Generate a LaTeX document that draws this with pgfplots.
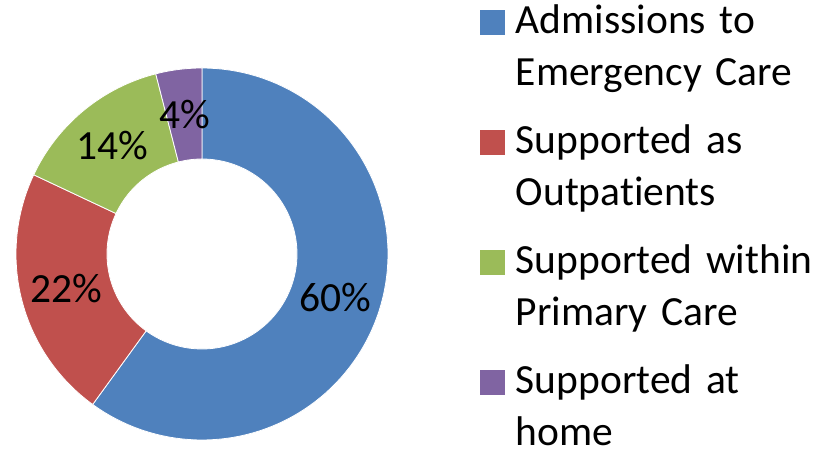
\documentclass[border=0pt]{standalone}
\usepackage{fontspec}
\setmainfont{Carlito}[Ligatures={NoCommon}, WordSpace=0.85]
\usepackage{pgfplots}
\usepackage{pgfplotstable}
\pgfplotsset{compat=1.18}
\definecolor{cA}{HTML}{4F81BD}
\definecolor{cB}{HTML}{C0504D}
\definecolor{cC}{HTML}{9BBB59}
\definecolor{cD}{HTML}{8064A2}
\pgfplotstableread{
label value
Admissions 60
Outpatients 22
Primary 14
Home 4
}\datatable
\pgfplotstablegetelem{0}{value}\of\datatable \let\vA\pgfplotsretval
\pgfplotstablegetelem{1}{value}\of\datatable \let\vB\pgfplotsretval
\pgfplotstablegetelem{2}{value}\of\datatable \let\vC\pgfplotsretval
\pgfplotstablegetelem{3}{value}\of\datatable \let\vD\pgfplotsretval
\pgfmathsetmacro\aO{90}
\pgfmathsetmacro\aA{\aO-3.6*\vA}
\pgfmathsetmacro\aB{\aA-3.6*\vB}
\pgfmathsetmacro\aC{\aB-3.6*\vC}
\pgfmathsetmacro\aD{\aC-3.6*\vD}
\def\cx{202}\def\cy{203}\def\Ro{186}\def\Ri{95}
% slice: start angle, end angle, colour
\newcommand\slice[3]{%
  \addplot[fill=#3, draw=white, line width=0.8bp, domain=0:4, samples=401,
    legend image code/.code={\fill[#3] (0bp,0bp) rectangle (24bp,24bp);}]
  ({\cx+(x<1 ? \Ro : (x<2 ? \Ro+(\Ri-\Ro)*(x-1) : (x<3 ? \Ri : \Ri+(\Ro-\Ri)*(x-3))))*cos(x<1 ? #1+(#2-#1)*x : (x<2 ? #2 : (x<3 ? #2+(#1-#2)*(x-2) : #1)))},
   {\cy+(x<1 ? \Ro : (x<2 ? \Ro+(\Ri-\Ro)*(x-1) : (x<3 ? \Ri : \Ri+(\Ro-\Ri)*(x-3))))*sin(x<1 ? #1+(#2-#1)*x : (x<2 ? #2 : (x<3 ? #2+(#1-#2)*(x-2) : #1)))});
}
\newcommand\plabel[3]{%
  \pgfmathsetmacro\mid{(#1+#2)/2}%
  \pgfmathsetmacro\lx{\cx+140.5*cos(\mid)}%
  \pgfmathsetmacro\ly{\cy+140.5*sin(\mid)}%
  \edef\tmp{\noexpand\node[anchor=center, inner sep=0pt] at (axis cs:\lx,\ly) {#3\noexpand\%};}%
  \tmp
}
\begin{document}
\begin{tikzpicture}
\begin{axis}[
  width=817bp, height=457bp, scale only axis,
  xmin=0, xmax=817, ymin=0, ymax=457,
  hide axis, clip=false,
  font=\fontsize{41.5bp}{52bp}\selectfont,
  legend style={at={(axis cs:480,453)}, anchor=north west, draw=none, fill=none,
    inner sep=0pt, outer sep=0pt, row sep=37bp, column sep=11bp,
    font=\fontsize{41.5bp}{52bp}\selectfont,
    nodes={anchor=base west, inner sep=0pt, text width=320bp, align=left,
      text height=30bp, text depth=53bp}},
  legend cell align=left,
]
\slice{\aO}{\aA}{cA}
\addlegendentry{Admissions to\\Emergency Care}
\slice{\aA}{\aB}{cB}
\addlegendentry{Supported as\\Outpatients}
\slice{\aB}{\aC}{cC}
\addlegendentry{Supported within\\Primary Care}
\slice{\aC}{\aD}{cD}
\addlegendentry{Supported at\\home}
\plabel{\aO}{\aA}{\vA}
\plabel{\aA}{\aB}{\vB}
\plabel{\aB}{\aC}{\vC}
\plabel{\aC}{\aD}{\vD}
\end{axis}
\pgfresetboundingbox
\path[use as bounding box] (current axis.south west) rectangle (current axis.north east);
\end{tikzpicture}
\end{document}
